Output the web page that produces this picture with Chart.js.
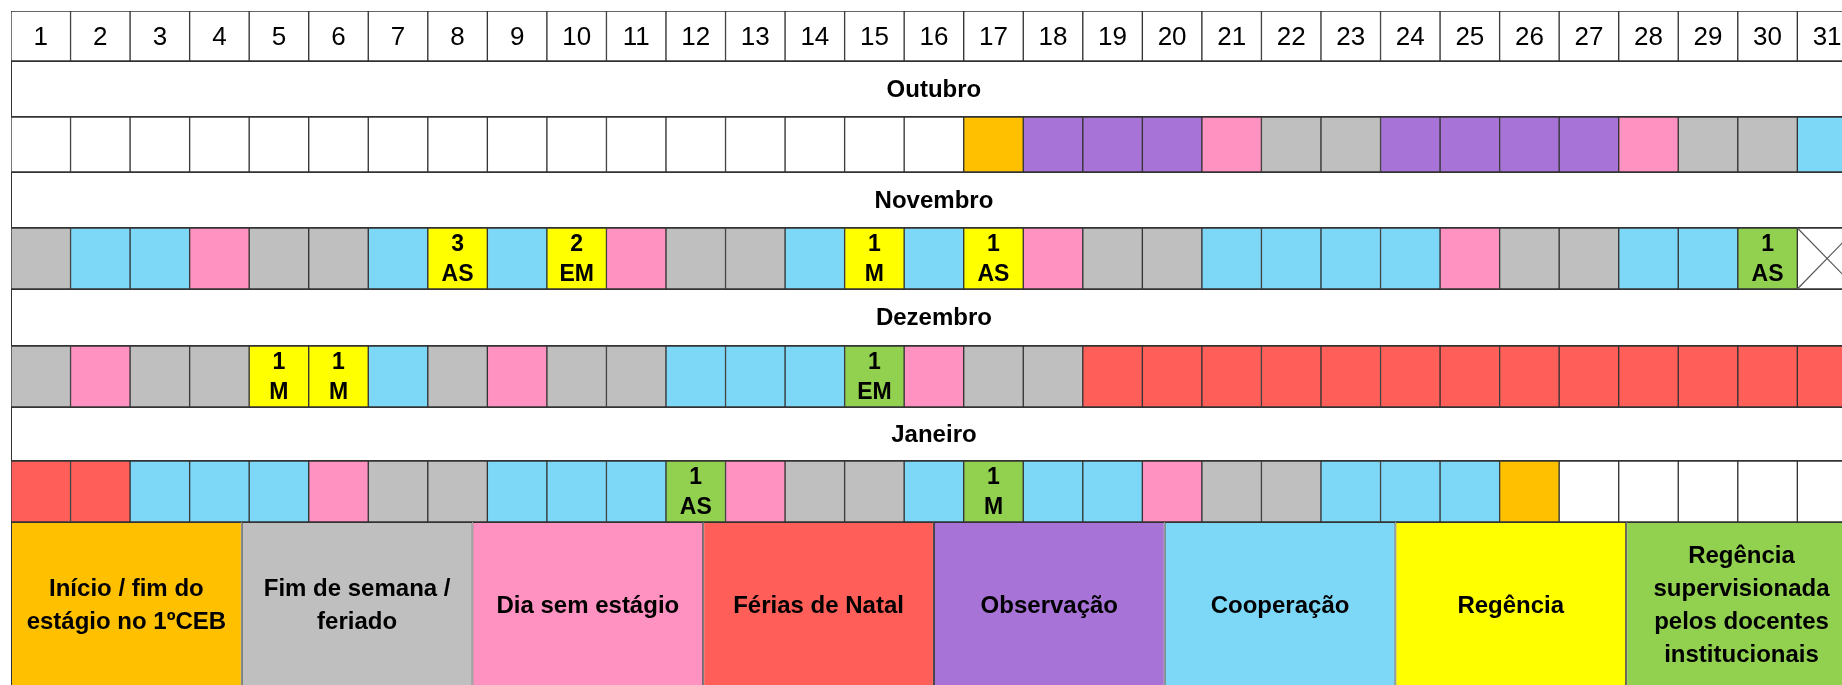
<!DOCTYPE html>
<html>
<head>
<meta charset="utf-8">
<title>Calendário de estágio</title>
<script src="https://cdn.jsdelivr.net/npm/chart.js@4.4.1/dist/chart.umd.min.js"></script>
<style>
  html, body { margin: 0; padding: 0; background: #ffffff; }
  #wrap { width: 1842px; height: 685px; }
</style>
</head>
<body>
<div id="wrap"><canvas id="calendarChart"></canvas></div>
<script>
// Day numbers along the top row
const days = [1, 2, 3, 4, 5, 6, 7, 8, 9, 10, 11, 12, 13, 14, 15, 16,
              17, 18, 19, 20, 21, 22, 23, 24, 25, 26, 27, 28, 29, 30, 31];

const months = ['Outubro', 'Novembro', 'Dezembro', 'Janeiro'];

// Category per day ('' = no mark, X = day does not exist)
// I início/fim, F fim de semana/feriado, D dia sem estágio, N férias de Natal,
// O observação, C cooperação, R regência, S regência supervisionada
const outubro  = ['', '', '', '', '', '', '', '', '', '', '', '', '', '', '', '',
                  'I', 'O', 'O', 'O', 'D', 'F', 'F', 'O', 'O', 'O', 'O', 'D', 'F', 'F', 'C'];
const novembro = ['F', 'C', 'C', 'D', 'F', 'F', 'C', 'R', 'C', 'R', 'D', 'F', 'F', 'C', 'R', 'C',
                  'R', 'D', 'F', 'F', 'C', 'C', 'C', 'C', 'D', 'F', 'F', 'C', 'C', 'S', 'X'];
const dezembro = ['F', 'D', 'F', 'F', 'R', 'R', 'C', 'F', 'D', 'F', 'F', 'C', 'C', 'C', 'S', 'D',
                  'F', 'F', 'N', 'N', 'N', 'N', 'N', 'N', 'N', 'N', 'N', 'N', 'N', 'N', 'N'];
const janeiro  = ['N', 'N', 'C', 'C', 'C', 'D', 'F', 'F', 'C', 'C', 'C', 'S', 'D', 'F', 'F', 'C',
                  'S', 'C', 'C', 'D', 'F', 'F', 'C', 'C', 'C', 'I', '', '', '', '', ''];

// Text inside some cells: number of sessions + period, keyed by day
const outubroNotas  = {};
const novembroNotas = { 8: ['3', 'AS'], 10: ['2', 'EM'], 15: ['1', 'M'], 17: ['1', 'AS'], 30: ['1', 'AS'] };
const dezembroNotas = { 5: ['1', 'M'], 6: ['1', 'M'], 15: ['1', 'EM'] };
const janeiroNotas  = { 12: ['1', 'AS'], 17: ['1', 'M'] };

// Legend boxes along the bottom
const legendCodes = ['I', 'F', 'D', 'N', 'O', 'C', 'R', 'S'];
const legendLabels = [
    ['Início / fim do', 'estágio no 1ºCEB'],
    ['Fim de semana /', 'feriado'],
    ['Dia sem estágio'],
    ['Férias de Natal'],
    ['Observação'],
    ['Cooperação'],
    ['Regência'],
    ['Regência', 'supervisionada', 'pelos docentes', 'institucionais'],
];

const categoryColors = {
    '': '#ffffff',
    X: '#ffffff',
    I: '#ffc000', // início / fim
    F: '#bfbfbf', // fim de semana
    D: '#ff92c1', // dia sem estágio
    N: '#ff5f58', // férias
    O: '#a873d6', // observação
    C: '#7dd8f8', // cooperação
    R: '#ffff00', // regência
    S: '#92d050', // regência supervisionada
};

// Table layout: height of each row (header, then band/days per month, legend)
const rowHeights = [50, 56, 55, 56, 61, 57, 61, 54, 61, 170];
const lineColor = '#333333';
const fontFamily = '"Liberation Sans", Arial, sans-serif';

const monthCodes = [outubro, novembro, dezembro, janeiro];
const monthNotes = [outubroNotas, novembroNotas, dezembroNotas, janeiroNotas];

// Row edges on the y scale
const rowEdges = [0];
rowHeights.forEach(h => rowEdges.push(rowEdges[rowEdges.length - 1] + h));
const rowSpan = r => [rowEdges[r], rowEdges[r + 1]];
const rowMid = r => (rowEdges[r] + rowEdges[r + 1]) / 2;
const bandRow = i => 1 + 2 * i;
const dayRow = i => 2 + 2 * i;
const legendRow = rowHeights.length - 1;

const headerCells = days.map(d => ({ x: d - 0.5, y: rowSpan(0) }));
const bandCells = months.map((m, i) => ({ x: days.length / 2, y: rowSpan(bandRow(i)) }));

const dayCells = [];
const dayColors = [];
const crossLines = [];
monthCodes.forEach((codes, i) => {
    codes.forEach((code, j) => {
        const [top, bottom] = rowSpan(dayRow(i));
        dayCells.push({ x: days[j] - 0.5, y: [top, bottom] });
        dayColors.push(categoryColors[code]);
        if (code === 'X') {
            crossLines.push([{ x: days[j] - 1, y: top }, { x: days[j], y: bottom }]);
            crossLines.push([{ x: days[j] - 1, y: bottom }, { x: days[j], y: top }]);
        }
    });
});

const legendWidth = days.length / legendCodes.length;
const legendCells = legendCodes.map((c, i) => ({ x: (i + 0.5) * legendWidth, y: rowSpan(legendRow) }));

const cellStyle = {
    type: 'bar',
    order: 1,
    grouped: false,
    categoryPercentage: 1,
    barPercentage: 1,
    borderSkipped: false,
    borderWidth: 1,
    borderColor: lineColor,
};

// Draw all the texts on top of the cells
const calendarText = {
    id: 'calendarText',
    afterDatasetsDraw(chart) {
        const { ctx, scales: { x, y } } = chart;
        ctx.save();
        ctx.textAlign = 'center';
        ctx.textBaseline = 'middle';
        ctx.fillStyle = '#000000';

        // day numbers
        ctx.font = '26px ' + fontFamily;
        days.forEach(d => {
            ctx.fillText(String(d), x.getPixelForValue(d - 0.5), y.getPixelForValue(rowMid(0)) + 1.5);
        });

        // month names
        ctx.font = 'bold 24px ' + fontFamily;
        months.forEach((m, i) => {
            ctx.fillText(m, x.getPixelForValue(days.length / 2), y.getPixelForValue(rowMid(bandRow(i))) + 1);
        });

        // notes in cells
        ctx.font = 'bold 23px ' + fontFamily;
        monthNotes.forEach((notes, i) => {
            Object.keys(notes).forEach(day => {
                const cx = x.getPixelForValue(Number(day) - 0.5);
                const cy = y.getPixelForValue(rowMid(dayRow(i)));
                ctx.fillText(notes[day][0], cx, cy - 13.5);
                ctx.fillText(notes[day][1], cx, cy + 16.5);
            });
        });

        // legend texts
        ctx.font = 'bold 24px ' + fontFamily;
        legendLabels.forEach((lines, i) => {
            const cx = x.getPixelForValue((i + 0.5) * legendWidth);
            const cy = y.getPixelForValue(rowMid(legendRow)) - 1;
            const lh = 33;
            lines.forEach((line, k) => {
                ctx.fillText(line, cx, cy + (k - (lines.length - 1) / 2) * lh);
            });
        });
        ctx.restore();
    }
};

const hiddenAxis = {
    type: 'linear', min: 0, max: 30.75, display: false, offset: false,
    ticks: { stepSize: 1, includeBounds: false }
};

new Chart(document.getElementById('calendarChart'), {
    data: {
        datasets: [
            Object.assign({ label: 'Dias', data: headerCells, backgroundColor: '#ffffff' }, cellStyle),
            Object.assign({ label: 'Meses', data: bandCells, backgroundColor: '#ffffff' },
                cellStyle, { barPercentage: days.length }),
            Object.assign({ label: 'Calendário', data: dayCells, backgroundColor: dayColors }, cellStyle),
            Object.assign({ label: 'Legenda', data: legendCells, xAxisID: 'xLegend',
                backgroundColor: legendCodes.map(c => categoryColors[c]) },
                cellStyle, { barPercentage: legendWidth }),
        ].concat(crossLines.map(pts => ({
            type: 'line',
            order: 0,
            label: 'Sem dia',
            data: pts,
            borderColor: '#555555',
            borderWidth: 1.2,
            pointRadius: 0,
        }))),
    },
    options: {
        responsive: true,
        maintainAspectRatio: false,
        animation: false,
        layout: { padding: { top: 11, left: 11, right: 0, bottom: 0 } },
        scales: {
            x: Object.assign({}, hiddenAxis),
            xLegend: Object.assign({ axis: 'x', position: 'bottom' }, hiddenAxis),
            y: {
                type: 'linear', min: 0, max: 674, reverse: true, display: false,
                offset: false, stacked: false
            },
        },
        plugins: {
            legend: { display: false },
            tooltip: { enabled: false },
        },
    },
    plugins: [calendarText],
});
</script>
</body>
</html>
